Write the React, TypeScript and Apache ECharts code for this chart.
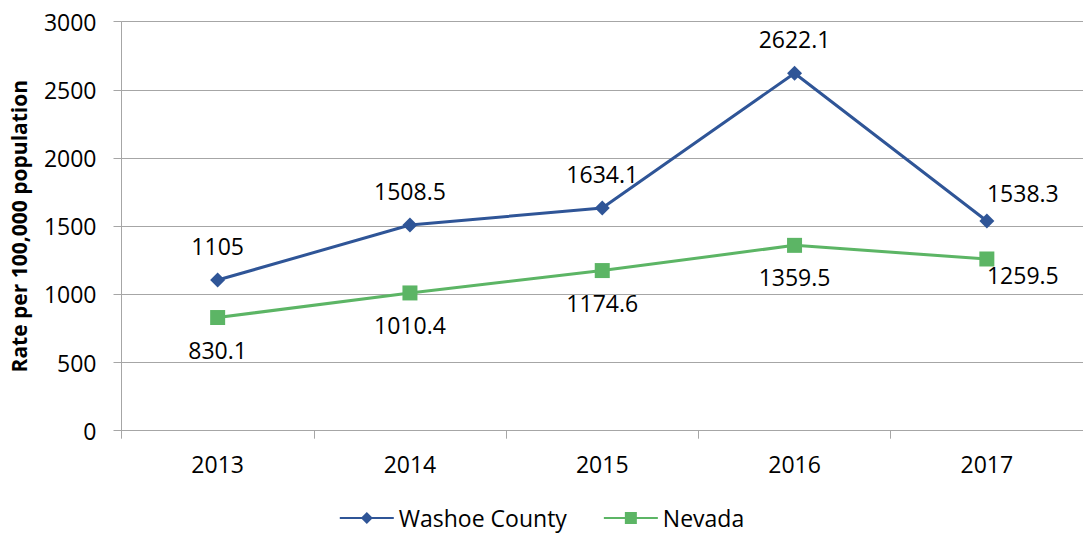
import React, { useEffect, useRef } from "react";
import * as echarts from "echarts";

const years = ["2013", "2014", "2015", "2016", "2017"];
const washoe = [1105, 1508.5, 1634.1, 2622.1, 1538.3];
const nevada = [830.1, 1010.4, 1174.6, 1359.5, 1259.5];
const yTitle = "Rate per 100,000 population";

const FONT = "'Open Sans', 'Noto Sans', sans-serif";
const BLUE = "#2F5597";
const GREEN = "#5CB565";
const GRID = "#A6A6A6";

export default function App() {
  const ref = useRef<HTMLDivElement>(null);
  useEffect(() => {
    if (!ref.current) return;
    const chart = echarts.init(ref.current, undefined, { renderer: "svg" });
    const lastIdx = years.length - 1;
    chart.setOption({
      animation: false,
      textStyle: { fontFamily: FONT },
      grid: { left: 121.5, top: 21.7, bottom: 102.3, right: -8.5, containLabel: false },
      legend: {
        bottom: 0,
        left: "center",
        padding: [0, 5, 2, 5],
        itemWidth: 54,
        itemHeight: 15,
        itemGap: 36,
        textStyle: { fontSize: 23, lineHeight: 26, color: "#000", fontFamily: FONT },
        data: ["Washoe County", "Nevada"],
      },
      xAxis: {
        type: "category",
        data: years,
        boundaryGap: true,
        axisLine: { show: true, lineStyle: { color: GRID, width: 1 } },
        axisTick: { show: true, length: 8, lineStyle: { color: GRID } },
        axisLabel: { color: "#000", fontSize: 23, margin: 22, fontFamily: FONT },
        splitLine: { show: false },
      },
      yAxis: {
        type: "value",
        min: 0,
        max: 3000,
        interval: 500,
        name: yTitle,
        nameLocation: "middle",
        nameGap: 92,
        nameTextStyle: { fontSize: 21, fontWeight: "bold", color: "#000", fontFamily: FONT },
        axisLine: { show: true, lineStyle: { color: GRID, width: 1 } },
        axisTick: { show: true, length: 8, lineStyle: { color: GRID } },
        axisLabel: {
          color: "#000",
          fontSize: 23,
          margin: 25,
          fontFamily: FONT,
          formatter: (v: number) => String(v),
        },
        splitLine: { show: true, lineStyle: { color: GRID, width: 1 } },
      },
      series: [
        {
          name: "Washoe County",
          type: "line",
          data: washoe.map((v, i) =>
            i === lastIdx
              ? { value: v, label: { position: "top", offset: [36, 6] } }
              : v
          ),
          symbol: "diamond",
          symbolSize: 15,
          itemStyle: { color: BLUE },
          lineStyle: { color: BLUE, width: 3 },
          label: {
            show: true,
            position: "top",
            distance: 15,
            fontSize: 23,
            color: "#000",
            fontFamily: FONT,
          },
          z: 3,
        },
        {
          name: "Nevada",
          type: "line",
          data: nevada.map((v, i) =>
            i === lastIdx
              ? { value: v, label: { position: "bottom", offset: [36, -16] } }
              : v
          ),
          symbol: "rect",
          symbolSize: 15,
          itemStyle: { color: GREEN },
          lineStyle: { color: GREEN, width: 3 },
          label: {
            show: true,
            position: "bottom",
            distance: 13,
            fontSize: 23,
            color: "#000",
            fontFamily: FONT,
          },
          z: 2,
        },
      ],
    });
    return () => chart.dispose();
  }, []);
  return (
    <div
      ref={ref}
      style={{ position: "fixed", left: 0, top: 0, width: 1083, height: 533, background: "#fff" }}
    />
  );
}
